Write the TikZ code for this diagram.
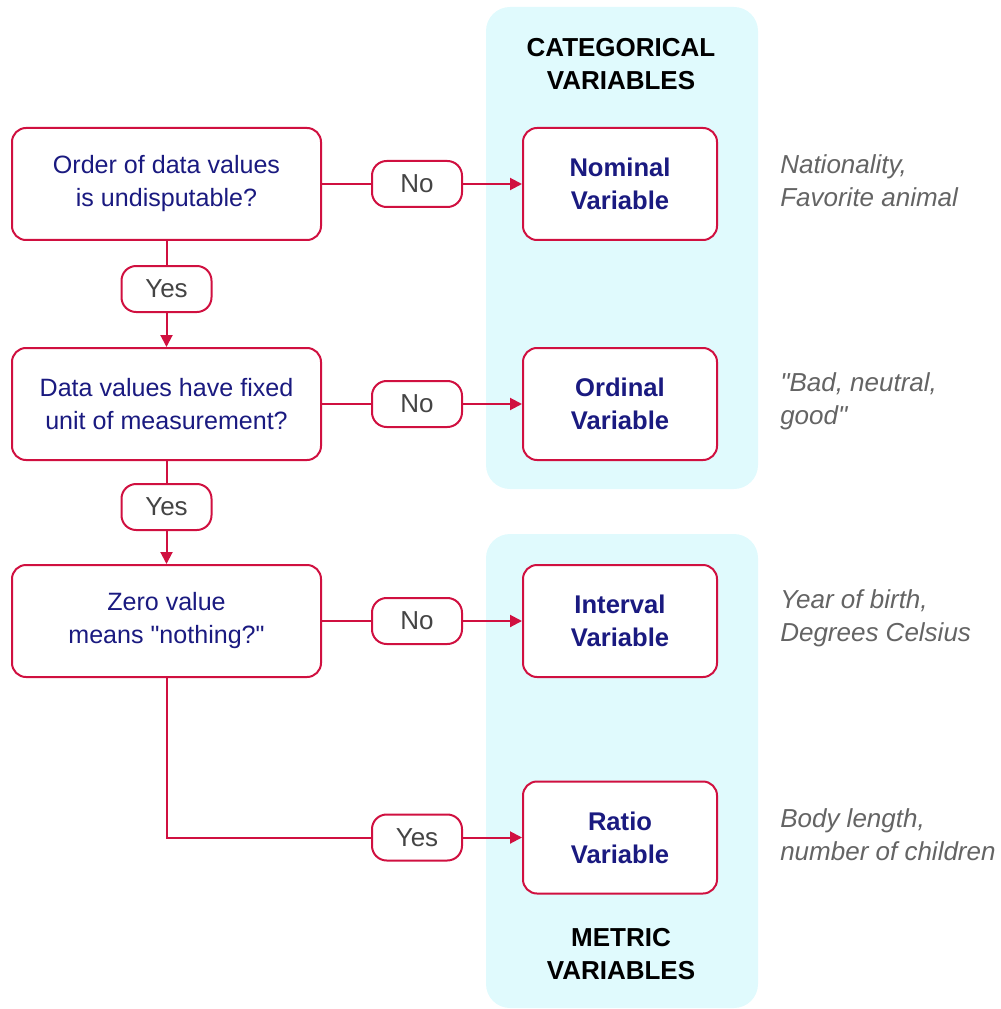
\documentclass[tikz,border=0pt]{standalone}
\usepackage{fontspec}
\setmainfont{Liberation Sans}[Ligatures=TeXOff]
\usetikzlibrary{arrows.meta}
\definecolor{cred}{RGB}{208,16,64}
\definecolor{cnavy}{RGB}{26,26,128}
\definecolor{cpanel}{RGB}{224,250,253}
\definecolor{cgray}{RGB}{68,68,68}
\definecolor{cex}{RGB}{100,100,100}
\begin{document}
\begin{tikzpicture}[x=0.75pt,y=-0.75pt,
  base/.style={font=\fontsize{18.8}{24.75}\selectfont, align=center, inner sep=0pt},
  qbox/.style={base, draw=cred, line width=1.5pt, rounded corners=10.5pt, fill=white,
    minimum width=231.75pt, minimum height=84pt, text=cnavy},
  vbox/.style={base, draw=cred, line width=1.5pt, rounded corners=10.5pt, fill=white,
    minimum width=145.5pt, minimum height=84pt, text=cnavy, font=\fontsize{19.2}{24.75}\selectfont\bfseries},
  pill/.style={base, draw=cred, line width=1.5pt, rounded corners=11pt, fill=white,
    minimum width=67.5pt, minimum height=34.5pt, text=cgray, font=\fontsize{19.5}{24.75}\selectfont},
  ex/.style={base, align=left, anchor=west, text=cex, font=\fontsize{19.5}{24.75}\selectfont\itshape},
  head/.style={base, text=black, font=\fontsize{19.5}{24.75}\selectfont\bfseries},
  conn/.style={draw=cred, line width=1.5pt},
  arr/.style={conn, -{Triangle[length=9pt,width=9pt]}},
  panel/.style={fill=cpanel, rounded corners=18pt}
]
\useasboundingbox (0,0) rectangle (1000,1009);
% panels
\fill[panel] (486,7) rectangle (758,489);
\fill[panel] (486,534) rectangle (758,1008);
\node[head] (hcat) at (621,64) {CATEGORICAL\\VARIABLES};
\node[head] (hmet) at (621,954) {METRIC\\VARIABLES};
% question boxes
\node[qbox] (q1) at (166.5,184) {Order of data values\\is undisputable?};
\node[qbox] (q2) at (166.5,404) {Data values have fixed\\unit of measurement?};
\node[qbox] (q3) at (166.5,621) {Zero value\\means "nothing?"};
% variable boxes
\node[vbox] (v1) at (620,184) {Nominal\\Variable};
\node[vbox] (v2) at (620,404) {Ordinal\\Variable};
\node[vbox] (v3) at (620,621) {Interval\\Variable};
\node[vbox] (v4) at (620,837.5) {Ratio\\Variable};
% pills
\node[pill] (n1) at (417,184) {No};
\node[pill] (n2) at (417,404) {No};
\node[pill] (n3) at (417,621) {No};
\node[pill] (y1) at (166.5,289) {Yes};
\node[pill] (y2) at (166.5,507) {Yes};
\node[pill] (y3) at (417,837.5) {Yes};
% examples
\node[ex] (e1) at (780,181) {Nationality,\\Favorite animal};
\node[ex] (e2) at (780,401) {"Bad, neutral,\\good"};
\node[ex] (e3) at (780,618) {Year of birth,\\Degrees Celsius};
\node[ex] (e4) at (780,834.5) {Body length,\\number of children};
% connectors
\draw[conn] (q1.east) -- (n1.west);
\draw[arr] (n1.east) -- (v1.west);
\draw[conn] (q2.east) -- (n2.west);
\draw[arr] (n2.east) -- (v2.west);
\draw[conn] (q3.east) -- (n3.west);
\draw[arr] (n3.east) -- (v3.west);
\draw[conn] (q1.south) -- (y1.north);
\draw[arr] (y1.south) -- (q2.north);
\draw[conn] (q2.south) -- (y2.north);
\draw[arr] (y2.south) -- (q3.north);
\draw[conn] (q3.south) |- (y3.west);
\draw[arr] (y3.east) -- (v4.west);
\end{tikzpicture}
\end{document}
